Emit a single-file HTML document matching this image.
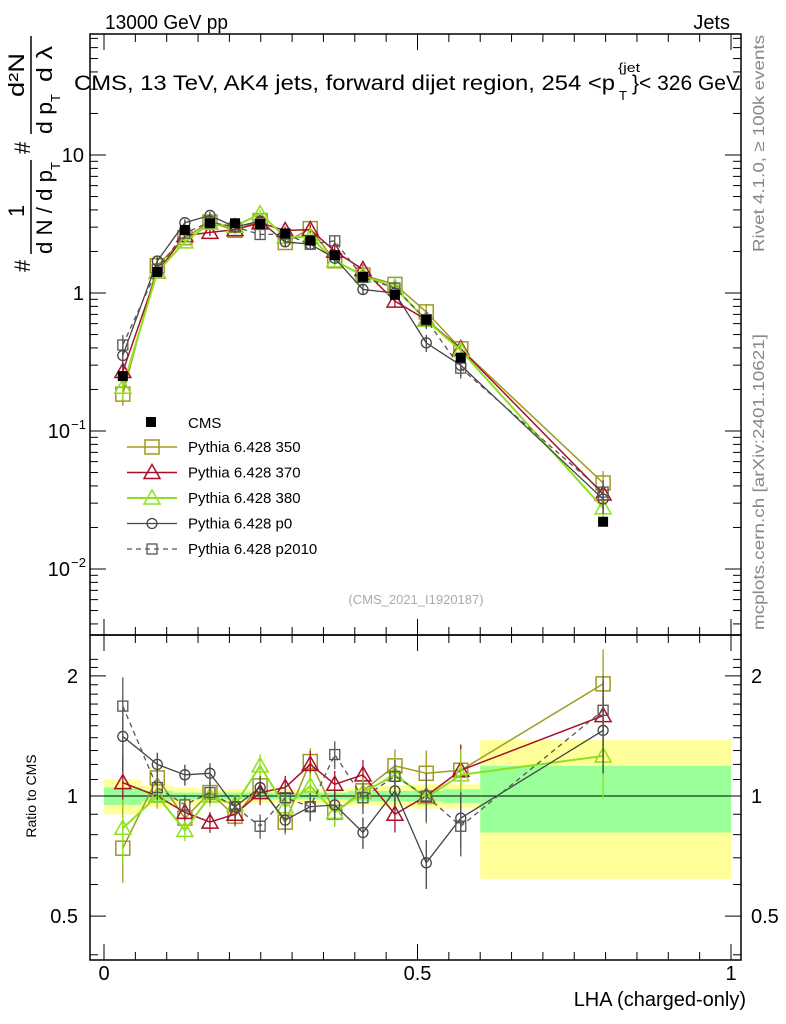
<!DOCTYPE html>
<html><head><meta charset="utf-8"><style>
body{margin:0;background:#fff}
svg{display:block;font-family:"Liberation Sans",sans-serif}
</style></head><body>
<svg id="c" width="786" height="1024" viewBox="0 0 786 1024" xmlns="http://www.w3.org/2000/svg">
<text x="105" y="29" font-size="20" textLength="123" lengthAdjust="spacingAndGlyphs">13000 GeV pp</text>
<text x="730" y="29" font-size="20" text-anchor="end">Jets</text>
<g font-size="21">
<text x="74" y="90" textLength="541" lengthAdjust="spacingAndGlyphs">CMS, 13 TeV, AK4 jets, forward dijet region, 254 &lt;p</text>
<text x="619" y="100" font-size="13">T</text>
<text x="618" y="72" font-size="13" textLength="22" lengthAdjust="spacingAndGlyphs">{jet</text>
<text x="632" y="90" textLength="108" lengthAdjust="spacingAndGlyphs">}&lt; 326 GeV</text>
</g>
<g transform="translate(52,272) rotate(-90)" font-size="22">
<text x="0" y="-22">#</text>
<text x="18" y="0" textLength="84" lengthAdjust="spacingAndGlyphs">d N / d p</text><text x="102" y="8" font-size="13">T</text>
<text x="55" y="-28">1</text><line x1="18" y1="-21" x2="112" y2="-21" stroke="#000" stroke-width="1.5"/>
<text x="118" y="-22">#</text>
<text x="138" y="0" textLength="32" lengthAdjust="spacingAndGlyphs">d p</text><text x="170" y="8" font-size="13">T</text>
<text x="190" y="0" textLength="36" lengthAdjust="spacingAndGlyphs">d λ</text>
<text x="175" y="-28" textLength="44" lengthAdjust="spacingAndGlyphs">d²N</text><line x1="138" y1="-21" x2="236" y2="-21" stroke="#000" stroke-width="1.5"/>
</g>
<text transform="translate(764,252) rotate(-90)" font-size="16" fill="#888" textLength="217" lengthAdjust="spacingAndGlyphs">Rivet 4.1.0, ≥ 100k events</text>
<text transform="translate(764,630) rotate(-90)" font-size="16" fill="#888" textLength="296" lengthAdjust="spacingAndGlyphs">mcplots.cern.ch [arXiv:2401.10621]</text>
<text x="416" y="604" font-size="13" fill="#aaa" text-anchor="middle">(CMS_2021_I1920187)</text>
<text transform="translate(36,796) rotate(-90)" font-size="14" text-anchor="middle">Ratio to CMS</text>
<text x="746" y="1006" font-size="20" text-anchor="end">LHA (charged-only)</text>
<g id="bands"></g><g id="plot"></g><g id="axes"></g><g id="legend"></g>
</svg>
<script>
const xVals=[0.030,0.085,0.129,0.169,0.209,0.249,0.289,0.329,0.368,0.413,0.464,0.514,0.569,0.796];
const binEdges=[0,0.06,0.11,0.15,0.19,0.23,0.27,0.31,0.35,0.39,0.44,0.49,0.54,0.6,1.0];
const cmsVals=[0.25,1.42,2.86,3.2,3.2,3.16,2.7,2.4,1.88,1.31,0.97,0.64,0.34,0.022];
const bandTot=[0.10,0.06,0.05,0.04,0.04,0.04,0.04,0.04,0.04,0.05,0.06,0.07,0.07,0.38];
const bandStat=[0.05,0.03,0.02,0.02,0.02,0.02,0.02,0.02,0.02,0.03,0.03,0.03,0.04,0.19];
const r350=[0.74,1.11,0.88,1.02,0.89,1.06,0.86,1.22,0.91,1.03,1.19,1.14,1.16,1.91];
const r370=[1.08,1.0,0.91,0.86,0.90,1.02,1.05,1.20,1.07,1.13,0.90,1.0,1.16,1.59];
const r380=[0.83,1.0,0.82,1.0,0.95,1.19,0.94,1.06,0.91,1.02,1.13,0.99,1.13,1.26];
const rp0=[1.41,1.20,1.13,1.14,0.94,1.05,0.87,0.94,0.95,0.81,1.03,0.68,0.88,1.46];
const rp2010=[1.68,1.05,0.95,1.02,0.94,0.84,0.99,0.94,1.27,0.99,1.12,1.0,0.84,1.64];
const relErr=[0.18,0.07,0.06,0.06,0.06,0.07,0.07,0.08,0.08,0.09,0.10,0.14,0.16,0.22];
const seriesNames=["Pythia 6.428 350","Pythia 6.428 370","Pythia 6.428 380","Pythia 6.428 p0","Pythia 6.428 p2010"];
const NS="http://www.w3.org/2000/svg";
const L=90,R=741,T=34,MB=635,RB=960;
const X=v=>104+v*627;
const Y=v=>293-138*Math.log10(v);
const YR=v=>796-399*Math.log10(v);
function mk(par,tag,at){const e=document.createElementNS(NS,tag);for(const k in at)e.setAttribute(k,at[k]);document.getElementById(par).appendChild(e);return e;}
for(let i=0;i<xVals.length;i++){
 let b=mk('bands','rect',{x:X(binEdges[i]),width:X(binEdges[i+1])-X(binEdges[i]),y:YR(1+bandTot[i]),height:YR(1-bandTot[i])-YR(1+bandTot[i]),fill:'#ffff99'});
 
 
 let g=mk('bands','rect',{x:X(binEdges[i]),width:X(binEdges[i+1])-X(binEdges[i]),y:YR(1+bandStat[i]),height:YR(1-bandStat[i])-YR(1+bandStat[i]),fill:'#99ff99'});
 
 
}
let one=mk('bands','line',{x1:L,x2:R,y1:YR(1),y2:YR(1),stroke:'#000','stroke-width':1});


function marker(par,type,x,y,col){
 let e;
 if(type==='sq')e=mk(par,'rect',{x:x-7,y:y-7,width:14,height:14,fill:'none',stroke:col,'stroke-width':1.5});
 else if(type==='tri')e=mk(par,'polygon',{points:`${x},${y-8} ${x-8},${y+6} ${x+8},${y+6}`,fill:'none',stroke:col,'stroke-width':1.5});
 else if(type==='circ')e=mk(par,'circle',{cx:x,cy:y,r:5,fill:'none',stroke:col,'stroke-width':1.3});
 else if(type==='ssq')e=mk(par,'rect',{x:x-5,y:y-5,width:10,height:10,fill:'none',stroke:col,'stroke-width':1.3});
 else e=mk(par,'rect',{x:x-5,y:y-5,width:10,height:10,fill:col});
 return e;
}
const specs=[[r350,'#a09a20','sq',1.5,''],[r370,'#a8102a','tri',1.5,''],[r380,'#8ee020','tri',2,''],[rp0,'#444','circ',1.3,''],[rp2010,'#555','ssq',1.3,'5,4']];
specs.forEach((s,si)=>{
 const [r,col,type,sw,dash]=s;
 const main=r.map((v,i)=>v*cmsVals[i]);
 const pm=main.map((v,i)=>`${X(xVals[i])},${Y(v)}`).join(' ');
 const pr=r.map((v,i)=>`${X(xVals[i])},${YR(v)}`).join(' ');
 let l1=mk('plot','polyline',{points:pm,fill:'none',stroke:col,'stroke-width':sw,'stroke-dasharray':dash});
 
 
 let l2=mk('plot','polyline',{points:pr,fill:'none',stroke:col,'stroke-width':sw,'stroke-dasharray':dash});
 
 
 r.forEach((v,i)=>{
  const x=X(xVals[i]),e=relErr[i];
  [[Y(main[i]*(1+e)),Y(main[i]*(1-e))],[YR(v*(1+e)),YR(v*(1-e))]].forEach(p=>{
   let eb=mk('plot','line',{x1:x,x2:x,y1:p[0],y2:p[1],stroke:col,'stroke-width':1.3});
   
   
  });
  let m1=marker('plot',type,x,Y(main[i]),col);
  
  
  let m2=marker('plot',type,x,YR(v),col);
  
  
 });
});
cmsVals.forEach((v,i)=>{
 let m=marker('plot','fill',X(xVals[i]),Y(v),'#000');
 
 
});
[[T,MB],[MB,RB]].forEach(f=>{
 let r=mk('axes','rect',{x:L,y:f[0],width:R-L,height:f[1]-f[0],fill:'none',stroke:'#000','stroke-width':1.5});
 
 
});
for(let d=-3;d<=1;d++)for(let m=1;m<10;m++){
 const v=m*Math.pow(10,d),y=Y(v);if(y<T||y>MB)continue;
 const len=m===1?16:8;
 mk('axes','line',{x1:L,x2:L+len,y1:y,y2:y,stroke:'#000'});
 mk('axes','line',{x1:R,x2:R-len,y1:y,y2:y,stroke:'#000'});
}
const mainTickVals=[0.01,0.1,1,10];
const mainTickLbl=[["10","−2"],["10","−1"],["1",""],["10",""]];
mainTickVals.forEach((v,i)=>{
 let t=mk('axes','text',{x:L-6,y:Y(v)+7,'font-size':20,'text-anchor':'end'});
 
 
 t.textContent=mainTickLbl[i][0];
 if(mainTickLbl[i][1]){t.setAttribute('x',L-20);let s=mk('axes','text',{x:L-4,y:Y(v)-2,'font-size':13,'text-anchor':'end'});s.textContent=mainTickLbl[i][1];
 
 }
});
for(let k=4;k<=22;k++){const v=k/10,y=YR(v);if(y<MB||y>RB)continue;const len=(k===5||k===10||k===20)?16:8;
 mk('axes','line',{x1:L,x2:L+len,y1:y,y2:y,stroke:'#000'});mk('axes','line',{x1:R,x2:R-len,y1:y,y2:y,stroke:'#000'});}
const ratioTicks=[0.5,1,2],ratioLbl=["0.5","1","2"];
ratioTicks.forEach((v,i)=>{
 let a=mk('axes','text',{x:L-12,y:YR(v)+7,'font-size':20,'text-anchor':'end'});a.textContent=ratioLbl[i];
 
 
 let b=mk('axes','text',{x:R+10,y:YR(v)+7,'font-size':20});b.textContent=ratioLbl[i];
 
 
});
for(let k=0;k<=20;k++){const x=X(k*0.05);const len=k%10===0?16:8;
 [[T,1],[MB,-1],[MB,1],[RB,-1]].forEach(p=>mk('axes','line',{x1:x,x2:x,y1:p[0],y2:p[0]+p[1]*len,stroke:'#000'}));}
const xTicks=[0,0.5,1],xLbl=["0","0.5","1"];
xTicks.forEach((v,i)=>{let t=mk('axes','text',{x:X(v),y:980,'font-size':20,'text-anchor':'middle'});t.textContent=xLbl[i];
 
 });
let lc=mk('legend','rect',{x:146,y:417,width:10,height:10,fill:'#000'});


let lt=mk('legend','text',{x:188,y:428,'font-size':15});lt.textContent='CMS';


specs.forEach((s,si)=>{
 const y=447+si*25.5;
 let ln=mk('legend','line',{x1:127,x2:177,y1:y,y2:y,stroke:s[1],'stroke-width':s[3],'stroke-dasharray':s[4]});
 
 
 let m=marker('legend',s[2],152,y,s[1]);
 
 
 let t=mk('legend','text',{x:188,y:y+5,'font-size':15});t.textContent=seriesNames[si];
 
 
});
</script>
</body></html>
